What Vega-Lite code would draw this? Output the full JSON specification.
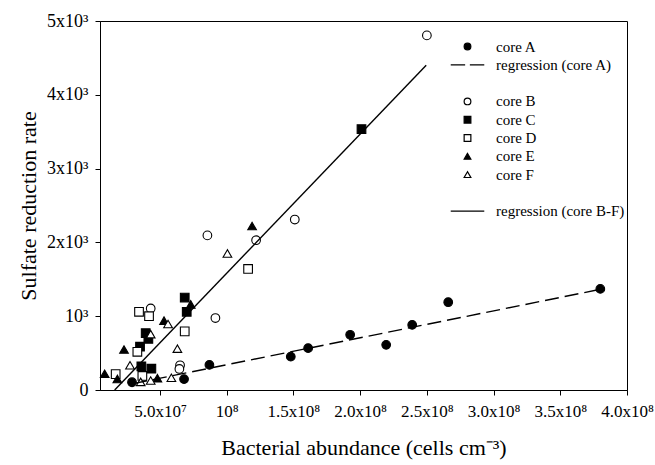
{
  "$schema": "https://vega.github.io/schema/vega-lite/v6.json",
  "width": 527,
  "height": 369,
  "autosize": {"type": "none"},
  "padding": {"left": 100, "top": 21, "right": 28, "bottom": 75},
  "background": "white",
  "config": {
    "font": "Liberation Serif",
    "view": {"stroke": "black", "strokeWidth": 1},
    "axis": {"grid": false, "domainColor": "black", "tickColor": "black", "labelColor": "black", "titleColor": "black", "titleFontWeight": "normal", "labelFont": "Liberation Serif", "titleFont": "Liberation Serif"},
    "legend": {"labelFont": "Liberation Serif"}
  },
  "datasets": {
    "points": [
      {"series": "core A", "x": 29000000, "y": 105},
      {"series": "core A", "x": 68000000, "y": 148},
      {"series": "core A", "x": 87000000, "y": 340},
      {"series": "core A", "x": 148000000, "y": 452},
      {"series": "core A", "x": 161000000, "y": 567},
      {"series": "core A", "x": 192500000, "y": 748},
      {"series": "core A", "x": 219500000, "y": 612},
      {"series": "core A", "x": 239000000, "y": 882},
      {"series": "core A", "x": 266000000, "y": 1190},
      {"series": "core A", "x": 380000000, "y": 1370},
      {"series": "core B", "x": 43000000, "y": 1105},
      {"series": "core B", "x": 65000000, "y": 335},
      {"series": "core B", "x": 64500000, "y": 285},
      {"series": "core B", "x": 85500000, "y": 2095},
      {"series": "core B", "x": 91500000, "y": 975},
      {"series": "core B", "x": 122000000, "y": 2030},
      {"series": "core B", "x": 151000000, "y": 2310},
      {"series": "core B", "x": 250000000, "y": 4805},
      {"series": "core C", "x": 36000000, "y": 321},
      {"series": "core C", "x": 43500000, "y": 289},
      {"series": "core C", "x": 35000000, "y": 587},
      {"series": "core C", "x": 39250000, "y": 770},
      {"series": "core C", "x": 41250000, "y": 693},
      {"series": "core C", "x": 68500000, "y": 1252},
      {"series": "core C", "x": 70000000, "y": 1060},
      {"series": "core C", "x": 201000000, "y": 3535},
      {"series": "core D", "x": 16750000, "y": 215},
      {"series": "core D", "x": 33000000, "y": 518},
      {"series": "core D", "x": 34250000, "y": 1060},
      {"series": "core D", "x": 36750000, "y": 190},
      {"series": "core D", "x": 41750000, "y": 1000},
      {"series": "core D", "x": 68500000, "y": 794},
      {"series": "core D", "x": 116000000, "y": 1640},
      {"series": "core E", "x": 8500000, "y": 220},
      {"series": "core E", "x": 18000000, "y": 150},
      {"series": "core E", "x": 23000000, "y": 548},
      {"series": "core E", "x": 48000000, "y": 160},
      {"series": "core E", "x": 53000000, "y": 940},
      {"series": "core E", "x": 73000000, "y": 1160},
      {"series": "core E", "x": 119000000, "y": 2222},
      {"series": "core F", "x": 27500000, "y": 335},
      {"series": "core F", "x": 35500000, "y": 110},
      {"series": "core F", "x": 43000000, "y": 128},
      {"series": "core F", "x": 58500000, "y": 165},
      {"series": "core F", "x": 63000000, "y": 560},
      {"series": "core F", "x": 56000000, "y": 894},
      {"series": "core F", "x": 43000000, "y": 757},
      {"series": "core F", "x": 100500000, "y": 1850}
    ],
    "lines": [
      {"fit": "core A", "x": 30000000, "y": 87},
      {"fit": "core A", "x": 380000000, "y": 1364},
      {"fit": "core B-F", "x": 16000000, "y": 0},
      {"fit": "core B-F", "x": 249500000, "y": 4400}
    ],
    "annot": [
      {"label": "A"}
    ]
  },
  "encoding": {
    "x": {
      "field": "x", "type": "quantitative",
      "scale": {"domain": [5000000, 400000000], "nice": false, "zero": false},
      "axis": {
        "title": "Bacterial abundance (cells cm⁻³)",
        "values": [50000000, 100000000, 150000000, 200000000, 250000000, 300000000, 350000000, 400000000],
        "labelExpr": "datum.value < 90000000 ? '5.0x10⁷' : (datum.value < 110000000 ? '10⁸' : format(datum.value / 100000000, '.1f') + 'x10⁸')",
        "labelFontSize": 17, "titleFontSize": 22, "tickSize": 5, "labelPadding": 8, "titlePadding": 18,
        "labelFlush": false, "labelOverlap": false
      }
    },
    "y": {
      "field": "y", "type": "quantitative",
      "scale": {"domain": [0, 5000], "nice": false, "zero": false},
      "axis": {
        "title": "Sulfate reduction rate",
        "values": [0, 1000, 2000, 3000, 4000, 5000],
        "labelExpr": "datum.value == 0 ? '0' : (datum.value == 1000 ? '10³' : format(datum.value / 1000, 'd') + 'x10³')",
        "labelFontSize": 18, "titleFontSize": 22, "tickSize": 5, "labelPadding": 7, "titlePadding": 6,
        "labelFlush": false, "labelOverlap": false
      }
    }
  },
  "layer": [
    {
      "data": {"name": "points"},
      "mark": {"type": "point", "size": 75, "stroke": "black", "strokeWidth": 1.1, "opacity": 1},
      "encoding": {
        "shape": {
          "field": "series", "type": "nominal",
          "scale": {
            "domain": ["core A", "regression (core A)", " ", "core B", "core C", "core D", "core E", "core F", "  ", "regression (core B-F)"],
            "range": ["circle", "M-5,0H-0.7M0.7,0H5", "M0,0", "circle", "square", "square", "triangle-up", "triangle-up", "M0,0", "M-5,0H5"]
          },
          "legend": {"title": null, "orient": "none", "legendX": 360, "legendY": 18, "labelOffset": 21, "rowPadding": 2.3, "labelFontSize": 15, "symbolSize": 45, "padding": 0, "symbolStrokeWidth": 1.2, "symbolStrokeColor": "black", "labelColor": "black"}
        },
        "fill": {
          "field": "series", "type": "nominal",
          "scale": {
            "domain": ["core A", "regression (core A)", " ", "core B", "core C", "core D", "core E", "core F", "  ", "regression (core B-F)"],
            "range": ["black", "transparent", "transparent", "white", "black", "white", "black", "white", "transparent", "transparent"]
          },
          "legend": {"title": null, "orient": "none", "legendX": 360, "legendY": 18, "labelOffset": 21, "rowPadding": 2.3, "labelFontSize": 15, "symbolSize": 45, "padding": 0, "symbolStrokeWidth": 1.2, "symbolStrokeColor": "black", "labelColor": "black"}
        },
        "stroke": {
          "field": "series", "type": "nominal",
          "scale": {
            "domain": ["core A", "regression (core A)", " ", "core B", "core C", "core D", "core E", "core F", "  ", "regression (core B-F)"],
            "range": ["black", "black", "black", "black", "black", "black", "black", "black", "black", "black"]
          },
          "legend": {"title": null, "orient": "none", "legendX": 360, "legendY": 18, "labelOffset": 21, "rowPadding": 2.3, "labelFontSize": 15, "symbolSize": 45, "padding": 0, "symbolStrokeWidth": 1.2, "symbolStrokeColor": "black", "labelColor": "black"}
        }
      }
    },
    {
      "data": {"name": "lines"},
      "transform": [{"filter": "datum.fit == 'core A'"}],
      "mark": {"type": "line", "color": "black", "strokeWidth": 1.4, "strokeDash": [14, 6]},
      "encoding": {}
    },
    {
      "data": {"name": "lines"},
      "transform": [{"filter": "datum.fit == 'core B-F'"}],
      "mark": {"type": "line", "color": "black", "strokeWidth": 1.4},
      "encoding": {}
    },
    {
      "data": {"name": "annot"},
      "mark": {"type": "text", "fontSize": 23, "font": "Liberation Serif", "color": "black", "align": "center", "baseline": "middle"},
      "encoding": {
        "x": {"datum": 22000000, "type": "quantitative"},
        "y": {"datum": 4688, "type": "quantitative"},
        "text": {"field": "label"}
      }
    }
  ]
}
